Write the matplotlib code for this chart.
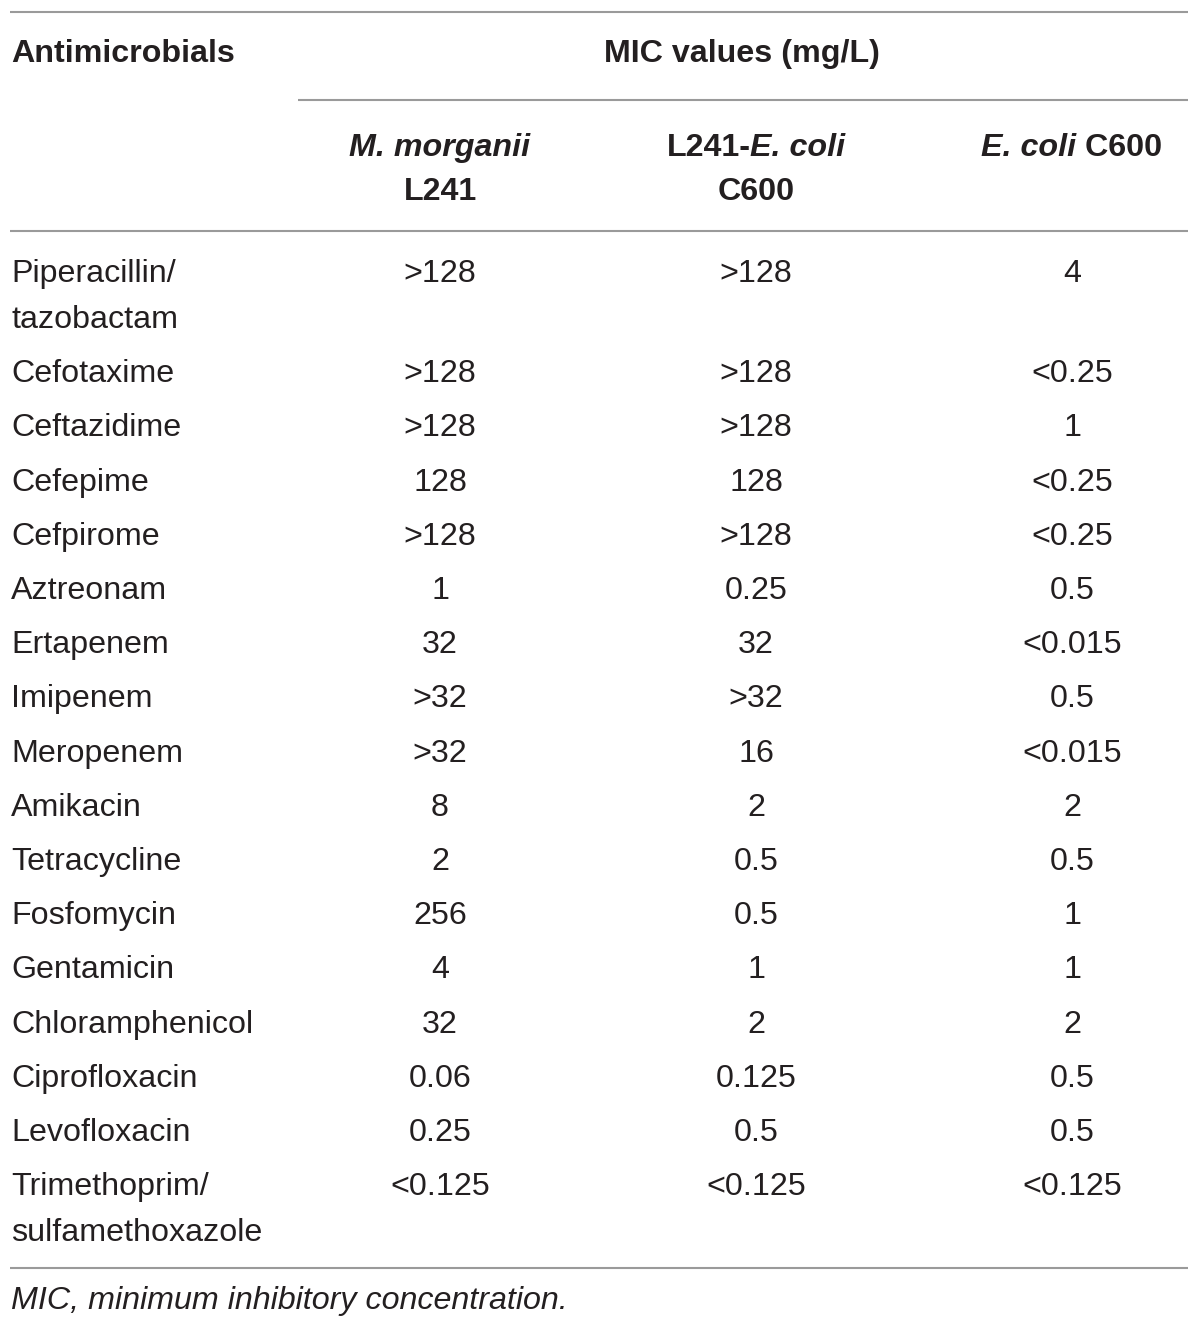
import matplotlib.pyplot as plt

plt.rcParams['font.family'] = ['Liberation Sans', 'DejaVu Sans']

drugs = ["Piperacillin/\ntazobactam", "Cefotaxime", "Ceftazidime", "Cefepime", "Cefpirome",
         "Aztreonam", "Ertapenem", "Imipenem", "Meropenem", "Amikacin", "Tetracycline",
         "Fosfomycin", "Gentamicin", "Chloramphenicol", "Ciprofloxacin", "Levofloxacin",
         "Trimethoprim/\nsulfamethoxazole"]
morganii = [">128", ">128", ">128", "128", ">128", "1", "32", ">32", ">32", "8", "2",
            "256", "4", "32", "0.06", "0.25", "<0.125"]
transconj = [">128", ">128", ">128", "128", ">128", "0.25", "32", ">32", "16", "2", "0.5",
             "0.5", "1", "2", "0.125", "0.5", "<0.125"]
ecoli = ["4", "<0.25", "1", "<0.25", "<0.25", "0.5", "<0.015", "0.5", "<0.015", "2", "0.5",
         "1", "1", "2", "0.5", "0.5", "<0.125"]

W, H = 1200, 1330
FS = 23.2
TXT = '#231f20'
LINE = '#9a9a9a'

fig = plt.figure(figsize=(W / 100, H / 100), dpi=100)
ax = fig.add_axes([0, 0, 1, 1])
ax.set_xlim(0, W)
ax.set_ylim(H, 0)
ax.axis('off')
renderer = fig.canvas.get_renderer()


def hline(x0, x1, y):
    ax.plot([x0, x1], [y, y], color=LINE, lw=1.5, solid_capstyle='butt')


def pieces(cx, y, parts):
    # parts: list of (text, weight, style); draw them side by side, centred on cx
    objs = []
    for s, w, st in parts:
        t = ax.text(0, y, s, fontsize=FS, fontweight=w, fontstyle=st, color=TXT,
                    va='center', ha='left')
        objs.append(t)
    inv = ax.transData.inverted()
    widths = []
    for t in objs:
        bb = t.get_window_extent(renderer)
        x0 = inv.transform((bb.x0, bb.y0))[0]
        x1 = inv.transform((bb.x1, bb.y0))[0]
        widths.append(x1 - x0)
    x = cx - sum(widths) / 2
    for t, w in zip(objs, widths):
        t.set_x(x)
        x += w


col_x = [440, 756, 1072]

# header
hline(10, 1188, 12)
ax.text(11, 54, "Antimicrobials", fontsize=FS, fontweight='bold', color=TXT, va='center')
ax.text(742, 54, "MIC values (mg/L)", fontsize=FS, fontweight='bold', color=TXT,
        va='center', ha='center')
hline(298, 1188, 100)

pieces(col_x[0], 148, [("M. morganii", 'bold', 'italic')])
pieces(col_x[0], 192, [("L241", 'bold', 'normal')])
pieces(col_x[1], 148, [("L241-", 'bold', 'normal'), ("E. coli", 'bold', 'italic')])
pieces(col_x[1], 192, [("C600", 'bold', 'normal')])
pieces(col_x[2], 148, [("E. coli", 'bold', 'italic'), (" C600", 'bold', 'normal')])
hline(10, 1188, 231)

# body
y = 274
step = 54.2
for name, a, b, c in zip(drugs, morganii, transconj, ecoli):
    lines = name.split("\n")
    for k, ln in enumerate(lines):
        ax.text(11, y + k * 46, ln, fontsize=FS, color=TXT, va='center')
    for cx, v in zip(col_x, (a, b, c)):
        ax.text(cx, y, v, fontsize=FS, color=TXT, va='center', ha='center')
    y += step if len(lines) == 1 else step + 46

hline(10, 1188, 1268)
ax.text(11, 1301, "MIC, minimum inhibitory concentration.", fontsize=FS, fontstyle='italic',
        color=TXT, va='center')

fig.savefig("out.png", dpi=100, facecolor='white')
